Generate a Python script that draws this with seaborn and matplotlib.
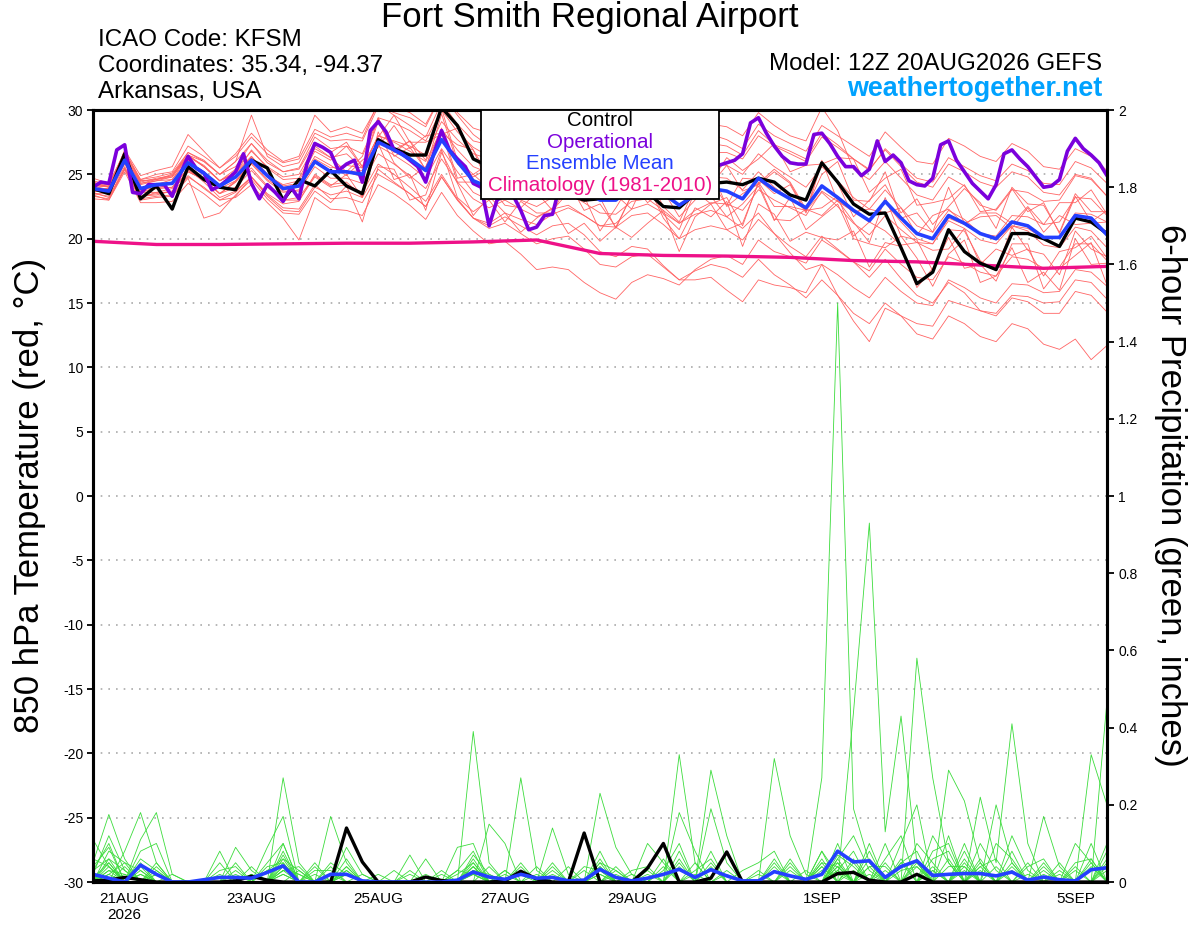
import pandas as pd
import numpy as np
import matplotlib.pyplot as plt
import matplotlib.patches as mpatches
import seaborn as sns

run_start = "2026-08-20 12:00"
run_end = "2026-09-05 12:00"

tick_dates = ["2026-08-21", "2026-08-23", "2026-08-25", "2026-08-27",
              "2026-08-29", "2026-09-01", "2026-09-03", "2026-09-05"]
tick_labels = ["21AUG\n2026", "23AUG", "25AUG", "27AUG", "29AUG", "1SEP", "3SEP", "5SEP"]

# operational run (3-hourly), 850 hPa temperature
oper_t850 = [24.0, 24.4, 24.3, 26.9, 27.3, 23.6, 23.5, 24.2, 24.2, 24.2,
             23.3, 25.0, 26.4, 25.5, 25.1, 23.8, 24.1, 24.6, 25.2, 26.6,
             24.3, 23.1, 24.2, 23.6, 22.9, 24.0, 23.1, 25.8, 27.4, 27.1,
             26.7, 25.3, 25.8, 26.1, 24.4, 28.4, 29.1, 28.3, 26.9, 26.6,
             26.1, 25.6, 24.4, 26.6, 28.4, 26.9, 26.2, 25.6, 24.3, 24.0,
             21.0, 23.0, 23.4, 23.4, 22.2, 20.7, 20.9, 21.8, 21.9, 24.3,
             25.5, 25.0, 24.2, 24.0, 23.6, 23.8, 24.4, 25.6, 26.2, 25.5,
             24.8, 24.3, 24.6, 24.8, 25.0, 25.8, 26.5, 26.0, 25.6, 25.7,
             25.9, 26.1, 26.6, 29.0, 29.4, 28.2, 27.2, 26.4, 25.9, 25.8,
             25.8, 28.1, 28.2, 27.4, 26.4, 25.6, 25.6, 24.9, 25.4, 27.6,
             26.0, 26.5, 25.9, 24.5, 24.2, 24.1, 24.7, 27.3, 27.6, 26.1,
             25.2, 24.3, 23.7, 23.1, 24.2, 26.6, 26.9, 26.2, 25.6, 24.8,
             24.0, 24.1, 24.6, 26.8, 27.8, 27.0, 26.5, 25.9, 24.9]

# ensemble mean and control (6-hourly)
mean_t850 = [23.9, 23.7, 26.1, 23.9, 24.2, 24.3, 25.9, 25.1, 24.1, 24.8,
             26.1, 24.9, 23.9, 24.1, 26.0, 25.2, 25.2, 25.0, 27.5, 26.9,
             26.2, 25.3, 27.7, 26.0, 24.5, 24.0, 24.6, 24.0, 23.5, 24.2,
             24.5, 23.8, 23.0, 23.0, 24.0, 24.3, 23.5, 22.6, 23.4, 23.9,
             23.7, 23.1, 24.7, 23.8, 23.1, 22.4, 24.1, 23.2, 22.2, 21.4,
             22.9, 21.6, 20.4, 20.0, 21.8, 21.2, 20.4, 20.0, 21.3, 21.0,
             20.1, 20.1, 21.8, 21.6, 20.3]

ctrl_t850 = [23.9, 23.5, 26.6, 23.1, 24.1, 22.3, 25.6, 24.6, 24.0, 23.8,
             26.1, 25.5, 23.0, 24.6, 24.1, 25.3, 24.1, 23.5, 27.7, 27.0,
             26.5, 26.5, 30.2, 28.8, 26.2, 25.6, 25.0, 24.5, 24.0, 23.6,
             23.4, 23.0, 23.1, 23.3, 23.8, 23.6, 22.5, 22.4, 23.5, 24.3,
             24.4, 24.2, 24.7, 24.4, 23.4, 23.0, 25.9, 24.4, 22.7, 21.9,
             22.0, 19.3, 16.5, 17.4, 20.7, 19.0, 18.1, 17.6, 20.4, 20.4,
             20.0, 19.4, 21.6, 21.3, 20.4]

# 1981-2010 climatology (daily)
clim_t850 = [19.8, 19.55, 19.55, 19.6, 19.65, 19.65, 19.75, 19.9, 18.85,
             18.7, 18.65, 18.55, 18.3, 18.2, 17.95, 17.7, 17.85]

# ensemble members (6-hourly)
member_t850 = [
    [24.4, 24.0, 26.8, 24.6, 25.0, 25.2, 27.2, 26.4, 25.5, 26.4, 27.9, 26.6, 25.9, 26.2, 28.5, 27.9,
     28.2, 27.8, 30.6, 30.2, 29.8, 28.9, 31.2, 29.8, 28.6, 28.2, 28.9, 28.0, 27.3, 28.4, 28.7, 27.6,
     27.0, 26.8, 28.2, 28.6, 27.5, 26.4, 27.5, 28.1, 27.7, 27.0, 28.9, 28.0, 27.4, 26.8, 28.8, 28.0,
     27.2, 26.4, 28.3, 27.1, 26.0, 25.8, 27.8, 27.2, 26.4, 26.0, 27.4, 26.8, 25.6, 25.4, 27.0, 26.4, 25.3],
    [23.6, 23.2, 25.5, 23.1, 23.3, 23.4, 24.8, 24.0, 23.0, 23.6, 24.8, 23.4, 22.4, 22.3, 24.2, 23.1,
     23.2, 22.8, 25.0, 24.3, 23.5, 22.5, 24.8, 23.0, 21.6, 20.8, 21.2, 20.4, 19.6, 20.0, 20.2, 19.2,
     18.0, 17.8, 18.6, 18.8, 17.8, 16.8, 17.5, 18.0, 17.7, 17.0, 18.4, 17.2, 16.4, 15.4, 16.8, 15.6,
     14.2, 13.4, 15.0, 14.0, 12.6, 12.2, 14.0, 13.4, 12.4, 12.0, 13.4, 13.0, 11.8, 11.4, 12.2, 10.6, 11.7],
    [24.2, 24.1, 26.3, 24.5, 24.6, 25.0, 26.5, 26.0, 25.0, 25.6, 27.4, 25.9, 25.2, 25.5, 27.9, 27.0,
     27.2, 26.6, 29.4, 29.0, 28.4, 27.6, 30.0, 28.3, 27.1, 26.4, 27.4, 26.8, 26.3, 27.2, 27.6, 26.8,
     26.0, 26.1, 27.2, 27.5, 26.8, 25.9, 26.8, 27.4, 27.2, 26.5, 28.4, 27.3, 26.8, 26.2, 28.2, 27.3,
     26.2, 25.3, 27.0, 25.8, 24.7, 24.4, 26.3, 25.6, 24.9, 24.5, 25.8, 25.3, 24.3, 24.2, 26.0, 25.5, 24.3],
    [23.5, 23.5, 25.6, 23.2, 23.6, 23.9, 25.2, 24.6, 23.5, 24.0, 25.3, 24.0, 23.0, 23.2, 24.9, 24.1,
     25.0, 23.2, 27.4, 24.6, 25.0, 22.2, 26.7, 24.3, 21.8, 23.3, 22.0, 20.5, 21.6, 22.4, 20.4, 21.2,
     19.8, 20.9, 20.1, 21.2, 22.2, 19.0, 21.7, 22.7, 20.7, 21.2, 24.3, 21.5, 21.4, 22.3, 21.8, 23.0,
     21.3, 19.7, 23.2, 20.2, 19.9, 17.5, 20.7, 20.6, 18.3, 17.5, 20.9, 19.1, 18.8, 17.2, 20.6, 19.2, 18.6],
    [23.8, 23.9, 26.6, 24.2, 24.5, 24.6, 26.4, 25.7, 24.5, 25.1, 26.9, 25.5, 24.6, 24.7, 27.0, 26.3,
     26.6, 25.5, 29.4, 26.9, 27.6, 26.1, 30.1, 26.1, 25.0, 25.8, 25.6, 23.4, 24.5, 23.9, 25.8, 22.9,
     23.1, 23.4, 22.3, 24.9, 22.5, 21.3, 24.0, 23.3, 21.7, 22.7, 24.1, 21.4, 23.2, 20.7, 21.7, 22.7,
     20.0, 19.6, 19.3, 20.2, 18.5, 16.3, 18.8, 19.9, 16.6, 17.1, 19.3, 16.6, 17.4, 16.0, 20.0, 18.0, 18.1],
    [24.4, 24.0, 26.0, 23.6, 23.6, 23.6, 24.9, 23.9, 23.0, 23.2, 24.2, 22.8, 21.6, 19.9, 23.2, 22.3,
     22.2, 21.8, 24.2, 23.5, 22.6, 21.5, 23.6, 21.8, 20.6, 19.6, 19.8, 18.8, 17.6, 17.8, 17.6, 16.6,
     15.8, 15.3, 16.6, 17.2, 16.9, 16.4, 17.6, 18.4, 18.7, 18.0, 19.9, 19.0, 18.6, 18.1, 19.9, 19.1,
     18.2, 17.5, 19.2, 18.0, 17.0, 16.8, 18.6, 18.1, 17.4, 17.1, 18.6, 18.4, 17.7, 17.8, 19.6, 19.6, 18.3],
    [23.4, 23.0, 25.2, 22.8, 22.8, 22.9, 24.3, 23.5, 22.5, 23.3, 24.8, 23.5, 22.7, 22.9, 25.0, 24.2,
     24.4, 23.3, 28.3, 25.9, 24.7, 25.6, 28.6, 24.7, 25.0, 23.9, 26.1, 23.7, 23.9, 26.5, 24.3, 25.4,
     24.8, 23.2, 25.6, 27.1, 24.4, 23.8, 26.2, 24.4, 26.3, 25.3, 26.2, 27.4, 25.2, 25.7, 25.8, 26.3,
     26.2, 23.6, 24.7, 25.4, 22.6, 22.8, 23.1, 24.2, 22.1, 22.3, 23.9, 22.1, 22.8, 20.4, 23.3, 21.3, 22.2],
    [23.9, 23.9, 26.9, 24.9, 25.3, 25.6, 28.1, 26.8, 25.5, 26.6, 28.2, 26.9, 26.0, 26.4, 29.6, 28.3,
     28.7, 28.2, 30.4, 29.6, 28.8, 27.9, 30.6, 28.9, 27.6, 27.3, 28.2, 27.7, 27.4, 28.5, 29.0, 28.3,
     28.0, 28.0, 29.0, 29.2, 28.4, 27.5, 28.4, 28.9, 28.7, 28.0, 29.8, 28.8, 28.0, 27.6, 30.2, 28.4,
     25.4, 24.6, 26.0, 24.7, 23.4, 23.0, 24.8, 24.1, 22.6, 22.2, 23.8, 23.6, 22.9, 23.0, 24.9, 24.6, 23.3],
    [24.1, 23.8, 26.0, 23.8, 24.2, 24.6, 26.1, 25.0, 23.9, 24.5, 25.5, 24.1, 23.0, 23.0, 24.8, 24.0,
     24.2, 23.6, 25.8, 25.0, 24.0, 22.9, 25.0, 23.1, 21.6, 21.0, 21.7, 21.0, 20.3, 21.0, 21.2, 20.3,
     19.0, 18.6, 19.4, 19.2, 17.9, 16.8, 16.8, 17.0, 16.0, 15.1, 16.8, 16.4, 16.2, 15.8, 18.0, 17.2,
     16.2, 15.4, 17.0, 15.9, 15.0, 14.8, 16.8, 16.2, 15.4, 15.0, 16.5, 16.4, 15.8, 15.9, 17.6, 17.4, 16.3],
    [23.7, 23.6, 25.8, 23.7, 23.9, 24.3, 25.8, 25.2, 24.0, 24.9, 26.4, 25.0, 24.1, 24.3, 26.4, 25.7,
     24.9, 26.1, 27.1, 28.8, 27.0, 28.0, 28.2, 27.3, 26.9, 24.0, 26.6, 26.7, 24.5, 24.9, 27.6, 25.3,
     25.2, 23.8, 26.7, 26.2, 23.6, 25.1, 24.1, 24.2, 25.7, 23.7, 24.2, 25.2, 24.3, 22.1, 26.1, 22.9,
     22.1, 22.3, 22.0, 22.4, 20.3, 21.8, 22.3, 21.1, 22.0, 22.0, 21.2, 22.5, 21.1, 22.8, 22.8, 23.8, 21.9],
    [24.7, 24.3, 26.7, 24.4, 24.7, 24.9, 26.5, 25.6, 24.5, 25.2, 26.4, 25.0, 24.0, 24.0, 26.1, 25.2,
     25.2, 24.8, 27.2, 26.5, 25.7, 24.7, 27.0, 25.2, 23.6, 23.0, 23.6, 23.0, 22.5, 23.2, 23.5, 22.8,
     22.0, 21.9, 22.9, 23.1, 22.2, 21.2, 21.9, 22.2, 21.7, 20.8, 22.0, 20.4, 18.9, 17.6, 18.0, 15.6,
     13.6, 12.0, 14.6, 14.0, 13.4, 13.2, 15.2, 14.8, 14.4, 14.2, 15.6, 15.5, 15.0, 15.1, 16.8, 16.6, 15.3],
    [23.3, 23.1, 25.4, 23.3, 23.5, 23.7, 25.3, 24.6, 23.5, 24.5, 26.0, 24.9, 24.2, 24.5, 26.8, 26.1,
     27.2, 25.6, 27.9, 29.6, 27.5, 27.5, 28.1, 28.6, 26.9, 24.8, 27.5, 24.9, 25.3, 24.2, 26.7, 25.1,
     23.3, 25.4, 24.6, 24.1, 24.8, 24.3, 23.2, 24.5, 22.6, 24.7, 24.6, 23.5, 24.2, 22.0, 25.9, 24.3,
     21.7, 23.0, 24.2, 22.0, 23.1, 21.1, 22.5, 23.9, 22.8, 20.8, 24.0, 22.7, 22.6, 20.5, 23.5, 22.1, 22.1],
    [24.3, 24.2, 26.8, 24.6, 24.8, 25.1, 26.7, 26.1, 25.0, 26.0, 29.6, 26.4, 25.6, 25.9, 28.2, 27.6,
     27.7, 27.6, 30.3, 29.8, 29.4, 28.7, 31.2, 29.6, 28.1, 27.2, 27.6, 26.7, 26.0, 26.6, 26.8, 25.9,
     25.0, 24.9, 25.9, 26.2, 25.4, 24.6, 25.4, 25.9, 25.7, 25.0, 26.6, 25.6, 24.8, 24.0, 25.6, 24.5,
     23.2, 22.3, 23.8, 22.4, 21.0, 20.5, 22.2, 21.5, 20.4, 19.9, 21.0, 20.6, 19.5, 19.3, 20.9, 20.6, 19.3],
    [23.5, 23.3, 25.4, 23.0, 23.2, 23.3, 24.7, 21.6, 22.0, 23.4, 24.6, 23.1, 22.0, 21.9, 23.7, 22.8,
     24.1, 21.3, 25.6, 25.4, 23.0, 23.4, 26.9, 23.2, 22.1, 23.0, 21.3, 22.9, 22.0, 22.0, 24.4, 22.2,
     22.7, 20.9, 23.4, 24.3, 21.9, 20.7, 23.7, 22.7, 23.2, 21.0, 24.4, 22.5, 22.5, 22.2, 22.4, 23.3,
     20.2, 21.3, 20.6, 19.5, 19.7, 19.1, 19.2, 20.8, 18.0, 16.7, 19.6, 19.6, 16.1, 17.7, 18.7, 19.7, 16.4],
    [23.9, 23.9, 26.4, 24.3, 24.5, 24.8, 26.5, 25.6, 24.5, 25.1, 26.3, 24.8, 23.7, 23.7, 25.6, 24.7,
     24.7, 24.3, 26.6, 25.8, 24.9, 23.9, 26.2, 24.4, 23.1, 22.4, 23.0, 22.3, 21.7, 22.3, 22.6, 21.8,
     21.0, 20.9, 21.8, 22.0, 21.1, 20.0, 20.7, 21.0, 20.7, 19.9, 21.5, 20.4, 19.4, 18.6, 20.2, 19.2,
     18.2, 17.0, 18.4, 16.9, 15.6, 15.0, 16.6, 15.8, 14.4, 14.0, 15.4, 15.1, 14.2, 14.2, 15.9, 15.6, 14.3],
    [24.2, 24.0, 26.2, 23.6, 23.9, 24.0, 25.5, 24.6, 23.5, 24.4, 25.9, 24.6, 23.8, 24.0, 26.2, 25.5,
     25.7, 25.5, 28.0, 27.5, 26.8, 26.0, 28.5, 26.9, 25.6, 25.1, 25.8, 25.3, 24.9, 25.7, 26.1, 25.5,
     25.0, 25.1, 26.2, 26.6, 25.9, 25.1, 26.1, 26.7, 26.7, 26.2, 28.0, 27.2, 26.6, 26.0, 27.9, 27.1,
     26.2, 25.4, 26.9, 25.6, 24.4, 24.0, 25.8, 25.2, 24.4, 24.0, 25.2, 24.8, 23.6, 23.4, 25.0, 24.7, 23.3],
    [23.7, 23.6, 26.3, 24.3, 24.6, 24.9, 26.7, 26.0, 25.0, 26.0, 27.4, 26.1, 25.2, 25.4, 27.5, 26.7,
     27.5, 25.6, 29.1, 26.7, 27.6, 25.3, 28.3, 24.4, 24.4, 24.1, 22.6, 22.4, 23.6, 22.2, 23.6, 23.3,
     20.6, 22.4, 24.4, 22.8, 23.7, 21.7, 23.0, 25.4, 22.5, 23.5, 24.3, 25.4, 24.4, 22.3, 25.0, 26.0,
     23.0, 22.9, 25.2, 21.6, 22.0, 20.5, 24.0, 21.2, 21.7, 21.8, 20.8, 22.4, 20.5, 21.8, 21.1, 21.2, 21.3],
    [24.5, 24.2, 26.3, 23.9, 23.9, 24.0, 25.4, 24.4, 23.2, 23.7, 24.8, 23.3, 22.2, 22.1, 24.0, 23.4,
     23.7, 23.2, 25.4, 24.4, 23.5, 22.5, 24.8, 23.0, 21.6, 21.2, 22.0, 21.5, 21.1, 21.9, 22.4, 21.8,
     21.0, 21.2, 22.3, 22.7, 22.0, 21.2, 22.2, 22.8, 22.7, 22.2, 23.8, 23.0, 22.4, 21.8, 23.7, 22.9,
     22.2, 21.4, 22.8, 21.3, 20.0, 19.6, 21.4, 20.8, 19.9, 19.6, 21.0, 20.8, 20.0, 20.2, 22.0, 21.9, 21.3],
    [23.1, 23.0, 25.4, 23.3, 23.4, 23.7, 25.2, 24.6, 23.5, 24.4, 25.8, 24.5, 23.6, 23.8, 25.9, 25.2,
     25.2, 25.3, 28.0, 27.6, 27.2, 26.5, 29.1, 27.7, 26.6, 26.2, 27.0, 26.6, 26.3, 27.0, 27.4, 26.7,
     26.0, 25.8, 26.6, 26.5, 25.3, 24.1, 24.6, 24.8, 24.7, 23.8, 25.2, 24.0, 23.1, 22.2, 23.6, 22.5,
     21.2, 20.3, 21.8, 20.7, 19.7, 19.6, 21.6, 21.1, 20.4, 20.2, 21.8, 21.7, 21.1, 21.3, 23.2, 23.1, 21.8],
    [24.0, 24.1, 26.7, 24.5, 24.6, 24.8, 26.4, 25.6, 24.5, 25.4, 26.8, 25.6, 24.8, 25.0, 27.2, 26.3,
     25.2, 26.4, 29.3, 26.4, 27.1, 25.4, 29.7, 25.8, 24.8, 25.5, 23.8, 24.9, 23.2, 25.4, 23.3, 23.2,
     23.2, 20.8, 23.4, 24.2, 21.6, 20.0, 22.4, 21.7, 22.9, 19.4, 22.7, 21.9, 19.8, 20.5, 20.1, 19.9,
     20.6, 17.8, 19.7, 19.4, 16.2, 17.7, 20.1, 17.7, 18.0, 19.2, 18.7, 19.2, 17.1, 19.0, 19.3, 20.2, 18.5],
]

# 6-hour precipitation (inches)
mean_precip = [0.02, 0.01, 0.0, 0.044, 0.02, 0.0, 0.0, 0.006, 0.012, 0.012,
               0.01, 0.025, 0.042, 0.0, 0.0, 0.02, 0.02, 0.003, 0.0, 0.0,
               0.0, 0.0, 0.0, 0.005, 0.026, 0.013, 0.007, 0.02, 0.01, 0.012,
               0.003, 0.005, 0.033, 0.012, 0.003, 0.01, 0.02, 0.033, 0.012, 0.032,
               0.016, 0.003, 0.003, 0.027, 0.016, 0.007, 0.02, 0.08, 0.052, 0.055,
               0.012, 0.04, 0.055, 0.017, 0.02, 0.022, 0.022, 0.016, 0.026, 0.005,
               0.013, 0.006, 0.003, 0.032, 0.037]

ctrl_precip = [0.003, 0.005, 0.012, 0.006, 0.0, 0.0, 0.0, 0.0, 0.0, 0.003,
               0.015, 0.005, 0.0, 0.0, 0.0, 0.0, 0.14, 0.052, 0.0, 0.0,
               0.0, 0.013, 0.004, 0.0, 0.0, 0.0, 0.003, 0.028, 0.008, 0.0,
               0.0, 0.127, 0.0, 0.0, 0.0, 0.036, 0.1, 0.0, 0.0, 0.01,
               0.078, 0.0, 0.0, 0.0, 0.0, 0.0, 0.0, 0.022, 0.025, 0.005,
               0.0, 0.0, 0.02, 0.0, 0.0, 0.0, 0.0, 0.0, 0.0, 0.0,
               0.0, 0.0, 0.0, 0.0, 0.0]

# members: step index -> amount, all other steps dry
member_precip = [
    {0: 0.11, 1: 0.04, 3: 0.02, 12: 0.27, 13: 0.05, 24: 0.05, 37: 0.33, 38: 0.05, 47: 0.1, 52: 0.58, 53: 0.27, 54: 0.05, 63: 0.05},
    {0: 0.05, 1: 0.175, 2: 0.06, 4: 0.02, 9: 0.09, 10: 0.03, 15: 0.17, 16: 0.05, 24: 0.39, 25: 0.05, 32: 0.23, 33: 0.09, 34: 0.02,
     46: 0.27, 47: 1.50, 48: 0.19, 49: 0.05, 55: 0.1, 58: 0.05},
    {2: 0.08, 3: 0.18, 4: 0.05, 8: 0.08, 11: 0.09, 12: 0.17, 20: 0.07, 27: 0.27, 28: 0.03, 39: 0.29, 40: 0.12, 48: 0.44, 49: 0.93,
     50: 0.13, 51: 0.43, 52: 0.05, 60: 0.03},
    {3: 0.11, 4: 0.18, 5: 0.02, 13: 0.03, 16: 0.09, 17: 0.02, 23: 0.09, 24: 0.1, 29: 0.14, 30: 0.02, 43: 0.32, 44: 0.12, 45: 0.02,
     54: 0.29, 55: 0.21, 56: 0.05, 64: 0.47},
    {1: 0.08, 2: 0.05, 12: 0.1, 14: 0.05, 21: 0.06, 25: 0.15, 26: 0.1, 35: 0.1, 36: 0.05, 46: 0.08, 51: 0.1, 52: 0.2, 56: 0.22,
     57: 0.05, 58: 0.41, 59: 0.1, 63: 0.33, 64: 0.2},
    {0: 0.03, 1: 0.1, 3: 0.05, 10: 0.02, 12: 0.07, 16: 0.04, 24: 0.04, 32: 0.08, 37: 0.18, 38: 0.08, 44: 0.04, 47: 0.04, 49: 0.04,
     50: 0.04, 53: 0.12, 54: 0.05, 57: 0.2, 58: 0.05, 60: 0.17, 61: 0.04},
    {1: 0.06, 2: 0.03, 11: 0.04, 12: 0.05, 15: 0.04, 19: 0.03, 24: 0.03, 28: 0.04, 31: 0.03, 36: 0.04, 39: 0.19, 40: 0.05, 46: 0.05,
     48: 0.05, 51: 0.05, 53: 0.03, 55: 0.08, 59: 0.05, 62: 0.1, 63: 0.05},
    {0: 0.01, 1: 0.05, 4: 0.04, 8: 0.03, 9: 0.04, 12: 0.04, 14: 0.02, 22: 0.02, 26: 0.03, 29: 0.03, 32: 0.05, 33: 0.03, 41: 0.03,
     42: 0.05, 43: 0.08, 46: 0.08, 47: 0.02, 50: 0.1, 52: 0.06, 55: 0.04, 61: 0.05, 64: 0.05},
    {1: 0.03, 2: 0.02, 5: 0.02, 11: 0.03, 12: 0.06, 13: 0.03, 16: 0.03, 20: 0.03, 24: 0.06, 27: 0.02, 34: 0.03, 35: 0.04, 37: 0.06,
     45: 0.03, 47: 0.06, 48: 0.12, 49: 0.03, 54: 0.12, 56: 0.03, 58: 0.03, 63: 0.1},
    {0: 0.02, 1: 0.12, 2: 0.03, 9: 0.02, 12: 0.03, 15: 0.05, 16: 0.02, 25: 0.04, 30: 0.04, 32: 0.03, 38: 0.03, 39: 0.06, 43: 0.04,
     47: 0.05, 49: 0.08, 51: 0.03, 52: 0.04, 56: 0.1, 57: 0.03, 64: 0.1},
    {1: 0.04, 3: 0.08, 4: 0.1, 8: 0.02, 10: 0.04, 12: 0.08, 16: 0.06, 22: 0.03, 24: 0.04, 29: 0.05, 33: 0.02, 36: 0.03, 37: 0.1,
     44: 0.05, 46: 0.04, 48: 0.06, 52: 0.1, 53: 0.05, 55: 0.05, 59: 0.04, 60: 0.06, 62: 0.03},
    {1: 0.02, 2: 0.05, 3: 0.03, 12: 0.04, 13: 0.02, 17: 0.02, 24: 0.02, 26: 0.02, 32: 0.04, 40: 0.03, 42: 0.02, 47: 0.06, 50: 0.06,
     51: 0.12, 54: 0.06, 57: 0.1, 58: 0.06, 63: 0.04},
    {0: 0.04, 1: 0.09, 3: 0.03, 11: 0.05, 12: 0.1, 14: 0.03, 15: 0.03, 18: 0.02, 23: 0.03, 24: 0.08, 27: 0.05, 32: 0.06, 35: 0.03,
     38: 0.05, 43: 0.05, 46: 0.05, 47: 0.04, 49: 0.1, 53: 0.08, 54: 0.1, 56: 0.05, 60: 0.04, 64: 0.06},
    {1: 0.03, 3: 0.06, 4: 0.03, 9: 0.05, 12: 0.02, 16: 0.03, 21: 0.02, 24: 0.03, 25: 0.02, 29: 0.04, 32: 0.02, 37: 0.04, 39: 0.05,
     44: 0.03, 47: 0.07, 48: 0.04, 52: 0.04, 55: 0.06, 58: 0.08, 61: 0.03},
    {2: 0.04, 4: 0.05, 12: 0.03, 13: 0.04, 16: 0.02, 23: 0.02, 24: 0.05, 28: 0.02, 31: 0.04, 32: 0.03, 36: 0.06, 43: 0.03, 46: 0.06,
     49: 0.06, 51: 0.06, 53: 0.04, 56: 0.06, 59: 0.02, 62: 0.04, 64: 0.03},
    {0: 0.06, 1: 0.04, 8: 0.05, 11: 0.03, 12: 0.04, 15: 0.02, 24: 0.07, 25: 0.02, 33: 0.04, 37: 0.05, 39: 0.08, 47: 0.03, 48: 0.08,
     50: 0.05, 54: 0.04, 55: 0.04, 57: 0.04, 60: 0.02},
    {1: 0.02, 3: 0.04, 12: 0.05, 16: 0.02, 20: 0.02, 24: 0.02, 27: 0.04, 32: 0.05, 38: 0.02, 42: 0.03, 46: 0.03, 47: 0.05, 51: 0.05,
     52: 0.08, 56: 0.04, 58: 0.12, 59: 0.03, 63: 0.06},
    {0: 0.02, 2: 0.02, 4: 0.03, 10: 0.02, 12: 0.02, 14: 0.04, 24: 0.03, 26: 0.03, 33: 0.03, 35: 0.02, 39: 0.04, 44: 0.06, 47: 0.03,
     49: 0.04, 53: 0.06, 54: 0.08, 60: 0.05, 64: 0.04},
    {1: 0.05, 3: 0.02, 9: 0.03, 12: 0.06, 16: 0.04, 24: 0.04, 29: 0.02, 32: 0.02, 37: 0.08, 40: 0.02, 46: 0.04, 48: 0.03, 50: 0.03,
     52: 0.05, 55: 0.03, 58: 0.04, 62: 0.05, 63: 0.06},
    {0: 0.03, 1: 0.06, 4: 0.02, 12: 0.03, 13: 0.02, 16: 0.02, 23: 0.03, 24: 0.02, 32: 0.04, 34: 0.02, 43: 0.06, 47: 0.04, 49: 0.02,
     53: 0.03, 56: 0.04, 57: 0.06, 61: 0.02, 64: 0.08},
]

legend_labels = ["Control", "Operational", "Ensemble Mean", "Climatology (1981-2010)"]
legend_colors = ["black", "#7b00dc", "#2440ff", "#ee1188"]

# --- Build tables ---
times6 = pd.date_range(run_start, run_end, freq="6h")
times3 = pd.date_range(run_start, run_end, freq="3h")
times24 = pd.date_range(run_start, run_end, freq="24h")

members_df = pd.concat(
    [pd.DataFrame({"time": times6, "t850": vals, "member": i}) for i, vals in enumerate(member_t850)],
    ignore_index=True)
precip_df = pd.concat(
    [pd.DataFrame({"time": times6,
                   "precip": [d.get(k, 0.0) for k in range(len(times6))],
                   "member": i}) for i, d in enumerate(member_precip)],
    ignore_index=True)

# --- Plot ---
sns.set_theme(style="white")
plt.rcParams['font.family'] = ['Liberation Sans', 'DejaVu Sans']
plt.rcParams['axes.unicode_minus'] = False
for key in ("text.color", "axes.labelcolor", "xtick.color", "ytick.color"):
    plt.rcParams[key] = "black"

fig = plt.figure(figsize=(12, 9.27), dpi=100)
ax = fig.add_axes([0.0775, 0.0485, 0.845, 0.8328])
ax2 = ax.twinx()

# temperature
sns.lineplot(data=members_df, x="time", y="t850", units="member", estimator=None,
             color="#ff6464", linewidth=0.6, ax=ax, legend=False)
sns.lineplot(x=times24, y=clim_t850, color="#ee1188", linewidth=2.4, ax=ax)
sns.lineplot(x=times6, y=ctrl_t850, color="black", linewidth=2.4, ax=ax)
sns.lineplot(x=times3, y=oper_t850, color="#7b00dc", linewidth=2.6, ax=ax)
sns.lineplot(x=times6, y=mean_t850, color="#2440ff", linewidth=2.6, ax=ax)

# precipitation
sns.lineplot(data=precip_df, x="time", y="precip", units="member", estimator=None,
             color="#3cdc3c", linewidth=0.6, ax=ax2, legend=False)
sns.lineplot(x=times6, y=ctrl_precip, color="black", linewidth=2.4, ax=ax2)
sns.lineplot(x=times6, y=mean_precip, color="#2440ff", linewidth=2.6, ax=ax2)

ax.set_xlim(times6[0], times6[-1])
ax.set_ylim(-30, 30)
ax2.set_ylim(0, 2)
for a in (ax, ax2):
    a.set_xlabel("")
    a.set_ylabel("")
    for s in a.spines.values():
        s.set_linewidth(2.2)
        s.set_color("black")

ax.set_yticks(range(-30, 31, 5))
p_ticks = np.round(np.arange(0, 2.01, 0.2), 1)
ax2.set_yticks(p_ticks)
ax2.set_yticklabels([f"{v:g}" for v in p_ticks])
ax.set_xticks(pd.to_datetime(tick_dates))
ax.set_xticklabels(tick_labels)

ax.tick_params(axis="y", left=True, direction="out", length=4, width=1.3, labelsize=10, pad=3)
ax.tick_params(axis="x", bottom=True, length=0, labelsize=11, pad=7)
ax2.tick_params(axis="y", right=True, direction="out", length=5, width=1.3, labelsize=10, pad=3)

ax.yaxis.grid(True, color="#aaaaaa", linewidth=1.2, linestyle=(0, (1, 3.6)))
ax.xaxis.grid(False)
ax.set_axisbelow(True)

# legend box
box = mpatches.Rectangle((0.3826, 0.8847), 0.2348, 0.1153, transform=ax2.transAxes,
                         facecolor="white", edgecolor="black", linewidth=1.3, zorder=10)
ax2.add_patch(box)
for lbl, col, yy in zip(legend_labels, legend_colors, [0.9858, 0.9585, 0.9313, 0.9028]):
    ax2.text(0.5, yy, lbl, color=col, ha="center", va="center", fontsize=14.8,
             transform=ax2.transAxes, zorder=11)

# header texts
fig.text(0.4917, 0.9806, "Fort Smith Regional Airport", ha="center", va="center", fontsize=25)
fig.text(0.0817, 0.9569, "ICAO Code: KFSM", ha="left", va="center", fontsize=17.4)
fig.text(0.0817, 0.9288, "Coordinates: 35.34, -94.37", ha="left", va="center", fontsize=17.4)
fig.text(0.0817, 0.9008, "Arkansas, USA", ha="left", va="center", fontsize=17.4)
fig.text(0.9183, 0.931, "Model: 12Z 20AUG2026 GEFS", ha="right", va="center", fontsize=17.4)
fig.text(0.9183, 0.904, "weathertogether.net", ha="right", va="center", fontsize=19.4,
         fontweight="bold", color="#00a2ff")

fig.text(0.025, 0.466, "850 hPa Temperature (red, °C)", rotation=90, ha="center", va="center", fontsize=25)
fig.text(0.975, 0.466, "6-hour Precipitation (green, inches)", rotation=-90, ha="center", va="center", fontsize=25)

fig.savefig("out.png", dpi=100)
